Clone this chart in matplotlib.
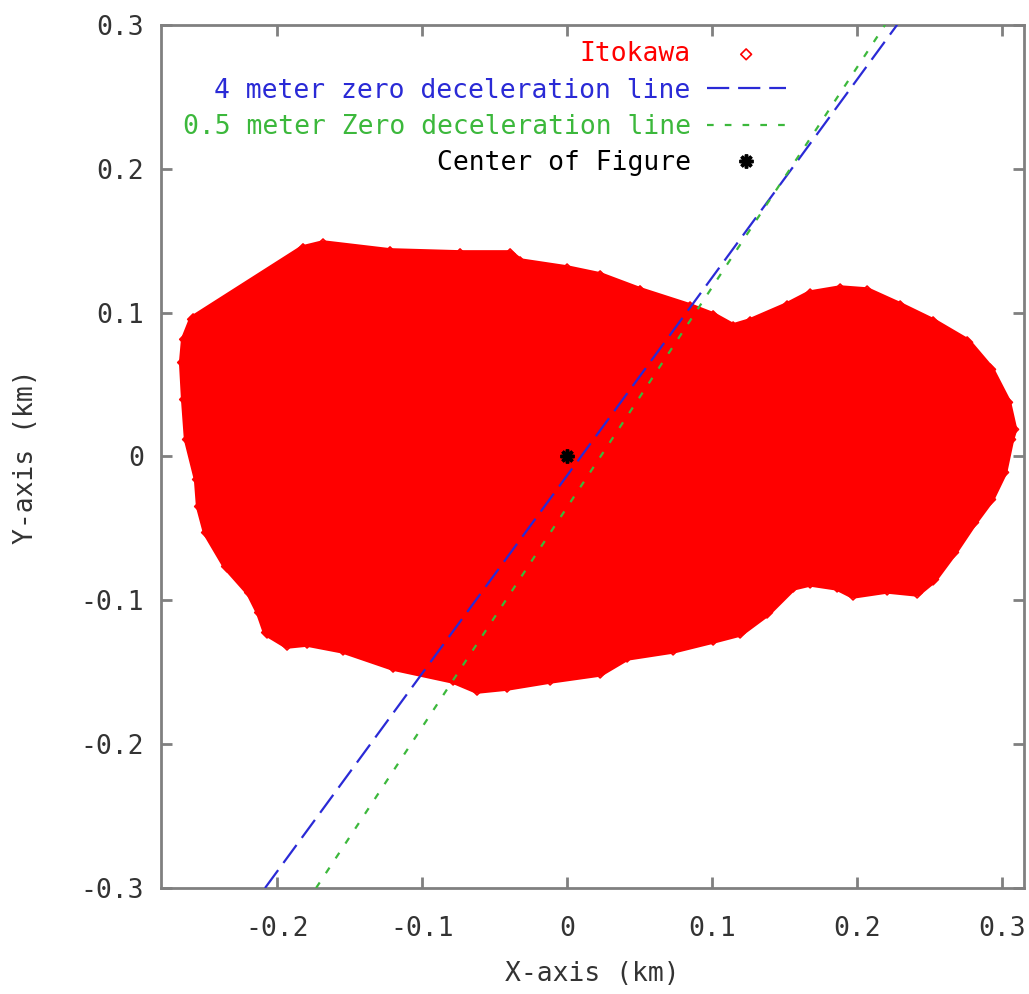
import numpy as np
import matplotlib.pyplot as plt

# outline of Itokawa (km), clockwise from the left
shape_x = [-0.2634, -0.2579, -0.1821, -0.1683, -0.1221, -0.0738, -0.0393, -0.0324,
           0.0000, 0.0228, 0.0503, 0.0848, 0.1007, 0.1145, 0.1262, 0.1517, 0.1676,
           0.1883, 0.2069, 0.2297, 0.2524, 0.2759, 0.2917, 0.3034, 0.3076, 0.3055,
           0.3007, 0.2917, 0.2800, 0.2662, 0.2524, 0.2414, 0.2207, 0.1972, 0.1862,
           0.1676, 0.1559, 0.1379, 0.1193, 0.1007, 0.0731, 0.0414, 0.0228, -0.0117,
           -0.0414, -0.0621, -0.0786, -0.1200, -0.1545, -0.1793, -0.1931, -0.2069,
           -0.2117, -0.2186, -0.2345, -0.2483, -0.2531, -0.2545, -0.2614, -0.2634,
           -0.2648]
shape_y = [0.0814, 0.0953, 0.1440, 0.1474, 0.1419, 0.1405, 0.1405, 0.1349,
           0.1300, 0.1252, 0.1148, 0.1036, 0.0974, 0.0897, 0.0932, 0.1043, 0.1126,
           0.1161, 0.1147, 0.1043, 0.0932, 0.0793, 0.0605, 0.0376, 0.0188, 0.0118,
           -0.0111, -0.0299, -0.0459, -0.0667, -0.0855, -0.0946, -0.0925, -0.0960, -0.0904,
           -0.0876, -0.0904, -0.1085, -0.1224, -0.1273, -0.1342, -0.1391, -0.1502, -0.1551,
           -0.1600, -0.1621, -0.1551, -0.1461, -0.1342, -0.1294, -0.1308, -0.1224,
           -0.1085, -0.0946, -0.0765, -0.0529, -0.0348, -0.0160, 0.0118, 0.0396,
           0.0653]

# zero deceleration lines
line4_x = [-0.2083, 0.2276]
line4_y = [-0.3, 0.3]
line05_x = [-0.1731, 0.2193]
line05_y = [-0.3, 0.3]

# center of figure
cof_x = [0.0]
cof_y = [0.0]

red = '#ff0000'
blue = '#2a2ad6'
green = '#3cb83c'
grey = '#808080'
txt = '#333333'

plt.rcParams['font.family'] = ['DejaVu Sans Mono']

fig = plt.figure(figsize=(10.29, 9.94), dpi=100)
ax = fig.add_axes([0.1565, 0.1066, 0.8385, 0.8684])

ax.fill(shape_x, shape_y, color=red, lw=6, joinstyle='round', zorder=1)
ax.scatter(shape_x, shape_y, marker='D', s=30, facecolors='none',
           edgecolors=red, linewidths=1.2, zorder=2, label='Itokawa')
ax.plot(line4_x, line4_y, color=blue, lw=1.6, dashes=(10, 4),
        zorder=3, label='4 meter zero deceleration line')
ax.plot(line05_x, line05_y, color=green, lw=1.6, dashes=(3, 5),
        zorder=3, label='0.5 meter Zero deceleration line')
ax.plot(cof_x, cof_y, ls='none', marker=(8, 2, 0), ms=10, mew=2.5,
        color='black', zorder=4, label='Center of Figure')

ax.set_xlim(-0.28, 0.315)
ax.set_ylim(-0.3, 0.3)
ax.set_xticks([-0.2, -0.1, 0, 0.1, 0.2, 0.3])
ax.set_xticklabels(['-0.2', '-0.1', '0', '0.1', '0.2', '0.3'])
ax.set_yticks([-0.3, -0.2, -0.1, 0, 0.1, 0.2, 0.3])
ax.set_yticklabels(['-0.3', '-0.2', '-0.1', '0', '0.1', '0.2', '0.3'])

for s in ax.spines.values():
    s.set_color(grey)
    s.set_linewidth(2)
ax.tick_params(direction='in', length=8, width=2, color=grey,
               top=True, right=True, labelsize=19, labelcolor=txt)
ax.tick_params(axis='x', pad=20)
ax.tick_params(axis='y', pad=12)

ax.set_xlabel('X-axis (km)', fontsize=19, color=txt)
ax.set_ylabel('Y-axis (km)', fontsize=19, color=txt)
ax.xaxis.set_label_coords(0.5, -0.085)
ax.yaxis.set_label_coords(-0.142, 0.5)

ax.legend(loc='upper right', bbox_to_anchor=(0.724, 0.981), frameon=False,
          markerfirst=False, fontsize=19, handlelength=3, handletextpad=0.6,
          labelspacing=0.39, borderpad=0, borderaxespad=0, scatterpoints=1,
          labelcolor=[red, blue, green, 'black'])

plt.savefig('out.png', dpi=100)
